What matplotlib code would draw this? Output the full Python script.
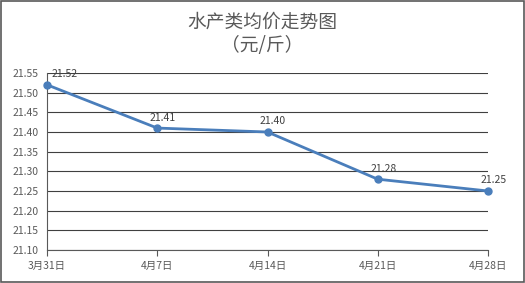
import matplotlib
matplotlib.use("Agg")
import matplotlib.pyplot as plt
from matplotlib.patches import Rectangle

plt.rcParams['font.family'] = ['Noto Sans CJK SC', 'DejaVu Sans']

categories = ["3月31日", "4月7日", "4月14日", "4月21日", "4月28日"]
values = [21.52, 21.41, 21.40, 21.28, 21.25]
y_ticks = [21.10, 21.15, 21.20, 21.25, 21.30, 21.35, 21.40, 21.45, 21.50, 21.55]

fig = plt.figure(figsize=(5.25, 2.83), dpi=100)
ax = fig.add_axes([47/525, 1-250/283, (488-47)/525, (250-73)/283])

x = list(range(len(categories)))
ax.plot(x, values, color="#4a7ebb", lw=2.0, marker="o", ms=5, zorder=3, clip_on=False)

for i, v in enumerate(values):
    dx = 13 if i == 0 else 4
    ax.annotate(f"{v:.2f}", (i, v), xytext=(dx, 4), textcoords="offset points",
                ha="center", va="bottom", fontsize=7.5, color="#404040")

ax.set_xlim(0, len(categories)-1)
ax.set_ylim(21.10, 21.55)
ax.set_yticks(y_ticks)
ax.set_yticklabels([f"{t:.2f}" for t in y_ticks])
ax.set_xticks(x)
ax.set_xticklabels(categories)
ax.tick_params(axis="y", length=0, labelsize=7.5, colors="#595959", pad=6)
ax.tick_params(axis="x", length=4, width=0.8, color="#595959", labelsize=7.5, labelcolor="#595959", pad=4)
ax.grid(axis="y", color="#404040", lw=0.8)
ax.set_axisbelow(True)
for s in ["top", "right"]:
    ax.spines[s].set_visible(False)
ax.spines["left"].set_color("#595959")
ax.spines["bottom"].set_color("#595959")
ax.spines["left"].set_linewidth(0.8)
ax.spines["bottom"].set_linewidth(0.8)

fig.text(0.5, 1-22/283, "水产类均价走势图", ha="center", va="center", fontsize=13.5, color="#595959")
fig.text(0.5, 1-46/283, "（元/斤）", ha="center", va="center", fontsize=13.5, color="#595959")

fig.patches.append(Rectangle((0.001, 0.002), 0.997, 0.995, transform=fig.transFigure,
                             fill=False, edgecolor="#595959", lw=1.2))

fig.savefig("out.png", dpi=100)
